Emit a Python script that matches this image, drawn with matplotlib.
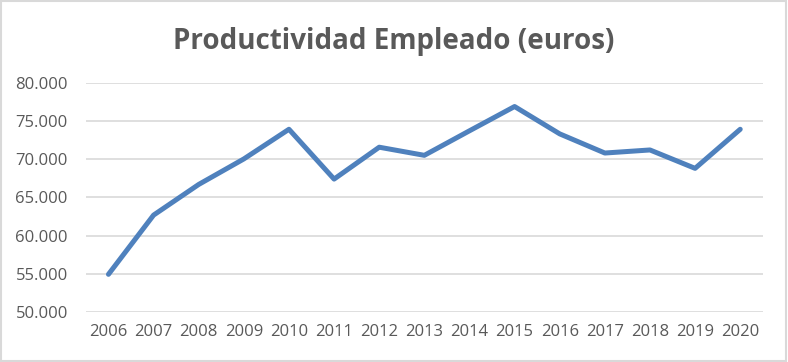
import matplotlib.pyplot as plt
from matplotlib.patches import Rectangle
from matplotlib.ticker import FuncFormatter

years = ["2006", "2007", "2008", "2009", "2010", "2011", "2012", "2013",
         "2014", "2015", "2016", "2017", "2018", "2019", "2020"]
productividad = [54970, 62700, 66700, 70030, 73900, 67400, 71560, 70500,
                 73700, 76870, 73300, 70800, 71200, 68800, 73900]

TEXT = "#595959"
GRID = "#d9d9d9"
LINE = "#4f81bd"

fig = plt.figure(figsize=(7.88, 3.62), dpi=100)
ax = fig.add_axes([0.109, 0.137, 0.859, 0.635])

x = list(range(len(years)))
ax.plot(x, productividad, color=LINE, linewidth=3.6, solid_joinstyle="round", solid_capstyle="round", zorder=3)

ax.set_xlim(-0.5, len(years) - 0.5)
ax.set_ylim(50000, 80000)
ax.set_yticks(range(50000, 80001, 5000))
ax.yaxis.set_major_formatter(FuncFormatter(lambda v, _: f"{int(v):,}".replace(",", ".")))
ax.set_xticks(x)
ax.set_xticklabels(years)

ax.grid(axis="y", color=GRID, linewidth=1.2)
ax.set_axisbelow(True)
for s in ax.spines.values():
    s.set_visible(False)
ax.tick_params(length=0, labelsize=12, labelcolor=TEXT, pad=8)
ax.tick_params(axis="y", pad=13)
for lbl in ax.get_xticklabels() + ax.get_yticklabels():
    lbl.set_family("Open Sans")

fig.text(0.5, 0.885, "Productividad Empleado (euros)", ha="center", va="center",
         fontsize=20, fontweight="bold", color=TEXT, family="Open Sans")

fig.patches.append(Rectangle((0.001, 0.002), 0.997, 0.995, transform=fig.transFigure,
                             fill=False, edgecolor=GRID, linewidth=1.5))

fig.savefig("out.png", dpi=100)
